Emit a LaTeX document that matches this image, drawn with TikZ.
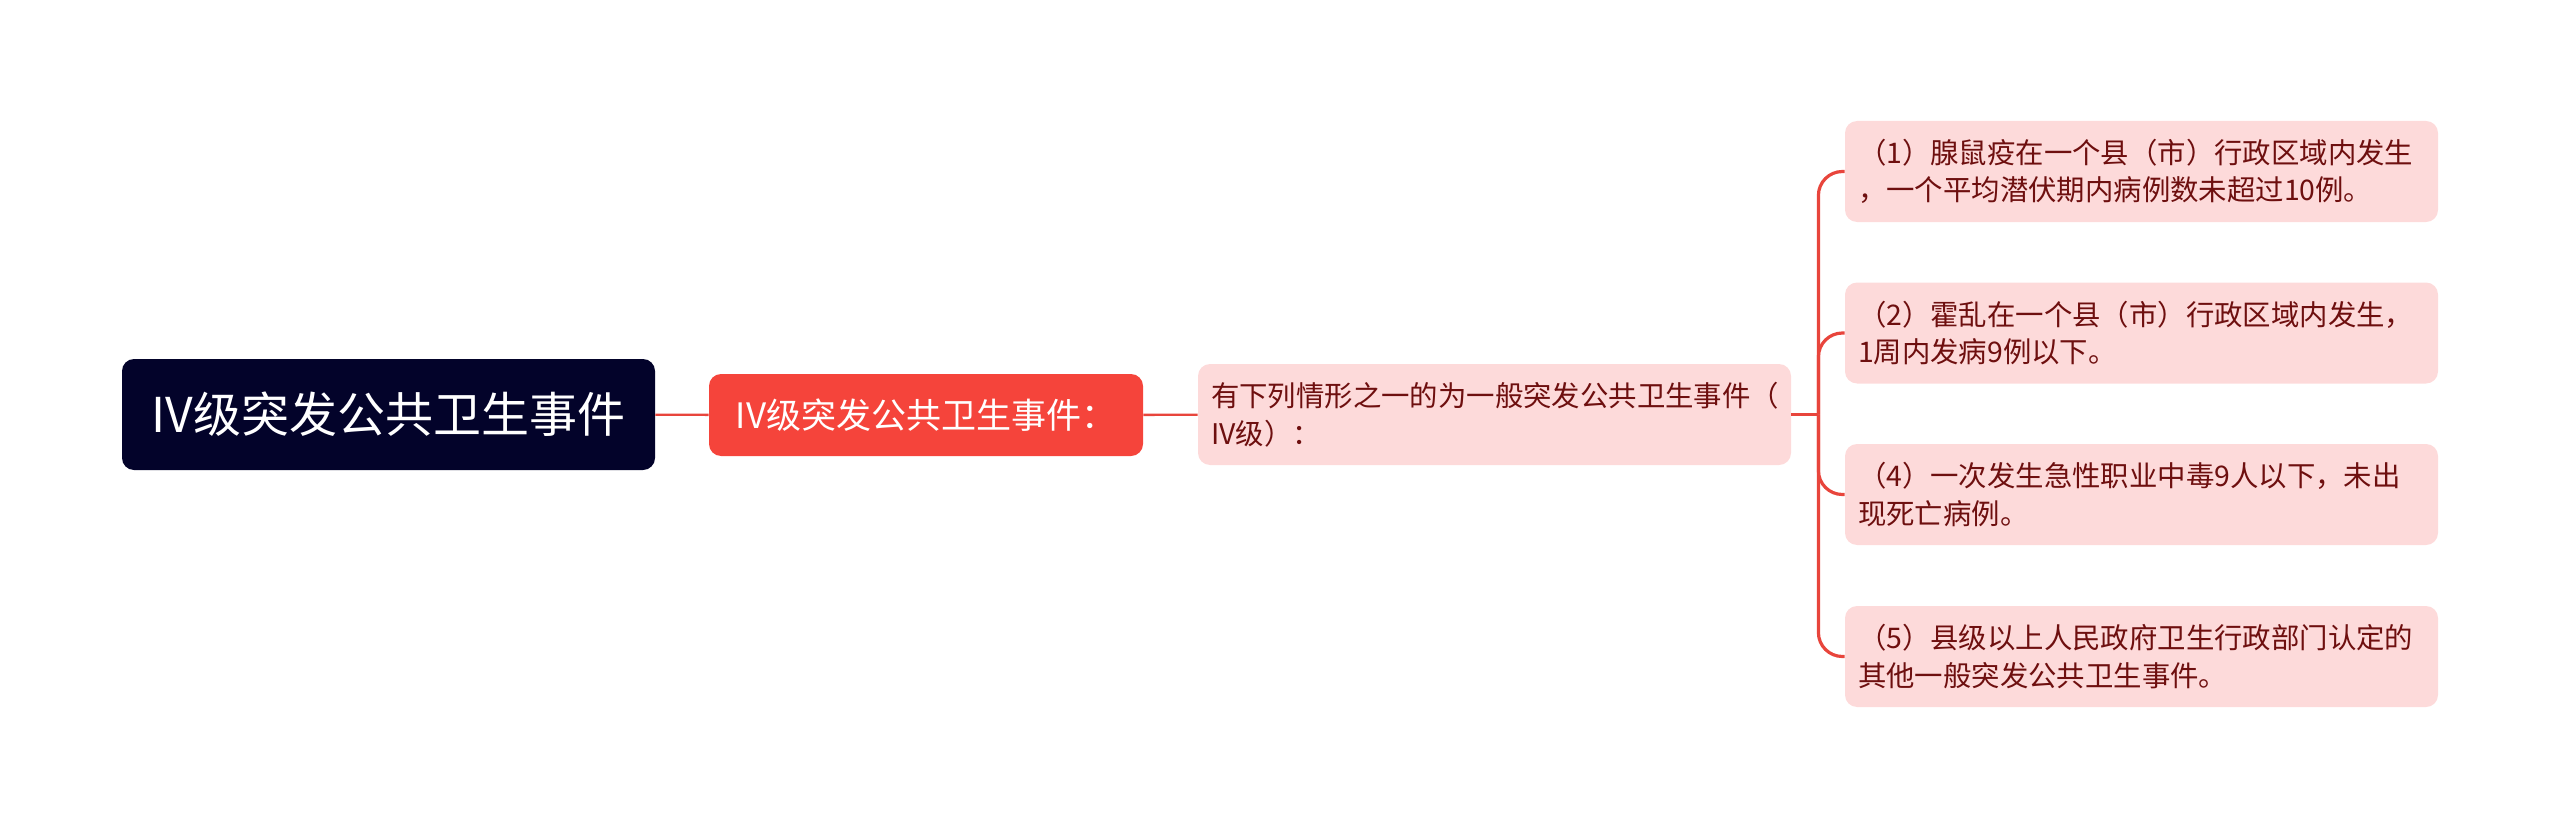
\documentclass[tikz,border=0pt]{standalone}
\usepackage{fontspec}
\setmainfont{Noto Sans CJK SC}
\definecolor{rootfill}{HTML}{03032A}
\definecolor{topicfill}{HTML}{F5443B}
\definecolor{subfill}{HTML}{FDDADA}
\definecolor{subtext}{HTML}{6E0F0F}
\definecolor{linkred}{HTML}{E8453C}

\begin{document}
\begin{tikzpicture}[x=0.5pt,y=-0.5pt]
\tikzset{box/.style={rounded corners=6pt,inner sep=0pt},
  rootbox/.style={box,fill=rootfill,text=white,minimum width=266.5pt,minimum height=55.5pt,font=\fontsize{24}{28}\selectfont},
  topicbox/.style={box,fill=topicfill,text=white,minimum width=217pt,minimum height=41pt,font=\fontsize{17.5}{21}\selectfont},
  subbox/.style={box,fill=subfill,text=subtext,align=left,text width=283.5pt,inner xsep=6.5pt,minimum height=50.5pt,font=\fontsize{14.2}{18.8}\selectfont},
  link/.style={draw=linkred,line width=1.2pt},
  branch/.style={draw=linkred,line width=1.6pt,rounded corners=12pt}}
\useasboundingbox(0,0)rectangle(2560,829);

\node[rootbox](root)at(388.5,414.5){IV级突发公共卫生事件};
\node[topicbox](topic)at(926,415){IV级突发公共卫生事件：};
\node[subbox](cond)at(1494.5,414.5){有下列情形之一的为一般突发公共卫生事件（\\IV级）：};
\draw[link](root)--(topic);
\draw[link](topic)--(cond);
\draw[branch](cond.east)--++(27,0)coordinate(fork);

\foreach \i/\y/\txt in {1/171.5/{（1）腺鼠疫在一个县（市）行政区域内发生\\，一个平均潜伏期内病例数未超过10例。},
  2/333/{（2）霍乱在一个县（市）行政区域内发生，\\1周内发病9例以下。},
  4/494.5/{（4）一次发生急性职业中毒9人以下，未出\\现死亡病例。},
  5/656.5/{（5）县级以上人民政府卫生行政部门认定的\\其他一般突发公共卫生事件。}}{
\node[subbox](case\i)at(2141.5,\y){\txt};
\draw[branch](fork)|-(case\i.west);
}
\end{tikzpicture}
\end{document}
